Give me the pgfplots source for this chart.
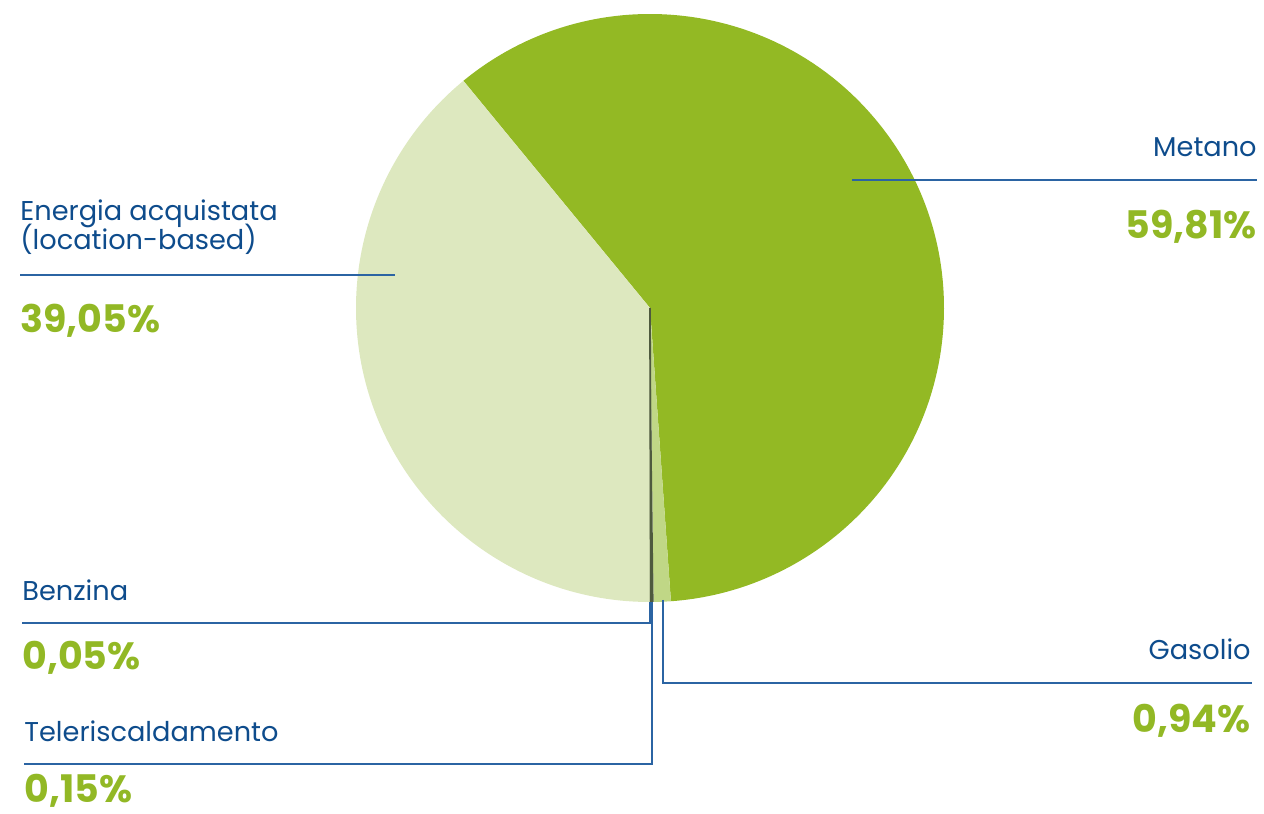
\documentclass[border=0pt]{standalone}
\usepackage{pgfplots}
\pgfplotsset{compat=1.18}
\usepackage{fontspec}
\setmainfont{Poppins}
\definecolor{txtblue}{HTML}{0E4C8C}
\definecolor{lineblue}{HTML}{2B64A3}
\definecolor{pgreen}{HTML}{92B825}
\definecolor{cmetano}{HTML}{93B924}
\definecolor{cenergia}{HTML}{DDE8BF}
\definecolor{cgasolio}{HTML}{C0D786}
\definecolor{ctele}{HTML}{4E5A3E}
\definecolor{cbenz}{HTML}{6E7A50}
% data (percent)
\def\vMetano{59.81}
\def\vGasolio{0.94}
\def\vTele{0.15}
\def\vBenz{0.05}
\def\vEnergia{39.05}
\newcommand{\lab}[1]{\fontsize{13.6}{16}\selectfont\color{txtblue}#1}
\newcommand{\pct}[1]{\fontsize{19}{22}\selectfont\bfseries\color{pgreen}#1}
\begin{document}
\begin{tikzpicture}
\begin{axis}[
  x=0.5pt, y=0.5pt, scale only axis,
  xmin=0, xmax=1264, ymin=0, ymax=814,
  hide axis, clip=false, anchor=origin, at={(0,0)},
]
\pgfmathsetmacro{\aA}{129.4}
\pgfmathsetmacro{\aB}{\aA-3.6*\vMetano}
\pgfmathsetmacro{\aC}{\aB-3.6*\vGasolio}
\pgfmathsetmacro{\aD}{\aC-3.6*\vTele}
\pgfmathsetmacro{\aE}{\aD-3.6*\vBenz}
\pgfmathsetmacro{\aF}{\aE-3.6*\vEnergia}
\def\R{147pt}
\fill[cmetano] (axis cs:650,506) -- ++(\aA:\R) arc[start angle=\aA, end angle=\aB, radius=\R] -- cycle;
\fill[cgasolio] (axis cs:650,506) -- ++(\aB:\R) arc[start angle=\aB, end angle=\aC, radius=\R] -- cycle;
\fill[cenergia] (axis cs:650,506) -- ++(\aE:\R) arc[start angle=\aE, end angle=\aF, radius=\R] -- cycle;
\fill[ctele] (axis cs:650,506) -- ++(\aC:\R) arc[start angle=\aC, end angle=\aD, radius=\R] -- cycle;
\fill[cbenz] (axis cs:650,506) -- ++(\aD:\R) arc[start angle=\aD, end angle=\aE, radius=\R] -- cycle;
\draw[ctele, line width=0.9pt] (axis cs:650,506) -- ++(\aD:\R);
% leader lines
\addplot[lineblue, line width=0.6pt, no marks] coordinates {(852,634) (1257,634)};
\addplot[lineblue, line width=0.6pt, no marks] coordinates {(20,539) (395,539)};
\addplot[lineblue, line width=0.6pt, no marks] coordinates {(22,191) (650,191) (650,212)};
\addplot[lineblue, line width=0.6pt, no marks] coordinates {(24,50) (652,50) (652,212)};
\addplot[lineblue, line width=0.6pt, no marks] coordinates {(663,214) (663,131) (1252,131)};
% labels
\node[anchor=base west, inner sep=0pt] at (axis cs:20,593) {\lab{Energia acquistata}};
\node[anchor=base west, inner sep=0pt] at (axis cs:20,564) {\lab{(location-based)}};
\node[anchor=base west, inner sep=0pt] at (axis cs:20,481) {\pct{39,05\%}};
\node[anchor=base east, inner sep=0pt] at (axis cs:1257,657) {\lab{Metano}};
\node[anchor=base east, inner sep=0pt] at (axis cs:1257,575) {\pct{59,81\%}};
\node[anchor=base west, inner sep=0pt] at (axis cs:22,213) {\lab{Benzina}};
\node[anchor=base west, inner sep=0pt] at (axis cs:22,144) {\pct{0,05\%}};
\node[anchor=base east, inner sep=0pt] at (axis cs:1251,154) {\lab{Gasolio}};
\node[anchor=base east, inner sep=0pt] at (axis cs:1251,81) {\pct{0,94\%}};
\node[anchor=base west, inner sep=0pt] at (axis cs:24,72) {\lab{Teleriscaldamento}};
\node[anchor=base west, inner sep=0pt] at (axis cs:24,11) {\pct{0,15\%}};
\end{axis}
\pgfresetboundingbox
\path (0,0) rectangle (632pt,407pt);
\end{tikzpicture}
\end{document}
